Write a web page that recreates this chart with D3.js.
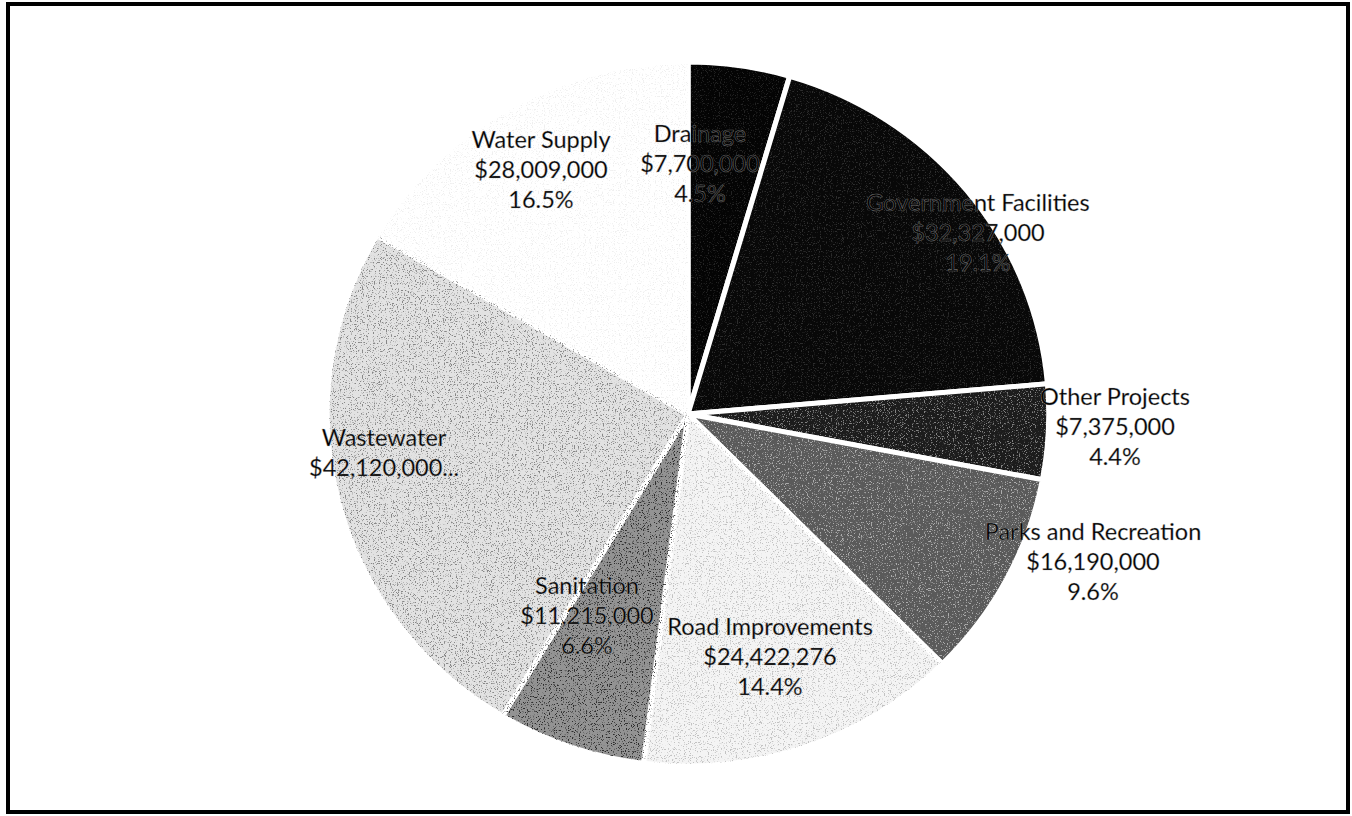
<!DOCTYPE html>
<html>
<head>
<meta charset="utf-8">
<script src="https://cdn.jsdelivr.net/npm/d3@7"></script>
<style>
  html, body { margin: 0; padding: 0; background: #fff; }
  svg { display: block; }
</style>
</head>
<body>
<svg id="chart"></svg>
<script>
const categories = ["Drainage", "Government Facilities", "Other Projects", "Parks and Recreation",
                    "Road Improvements", "Sanitation", "Wastewater", "Water Supply"];
const values = [7700000, 32327000, 7375000, 16190000, 24422276, 11215000, 42120000, 28009000];
const fills = ["#040404", "#080808", "#1c1c1c", "#5a5a5a", "#f4f4f4", "#939393", "#e2e2e2", "#ffffff"];
// speckle colour and strength laid over each slice (scanned look)
const grainColors = ["#fff", "#fff", "#fff", "#fff", "#000", "#000", "#000", "#000"];
const grainAlpha = [0.12, 0.15, 0.45, 0.5, 0.2, 0.7, 0.4, 0.06];

// label block centres (middle line), relative to the pie centre
const labelOffsets = [[12, -250], [290, -181], [427, 13], [405, 148],
                      [82, 243], [-101, 202], [-304, 39], [-147, -244]];

const W = 1352, H = 816;
const cx = 688, cy = 414, radius = 352;

const svg = d3.select("#chart").attr("width", W).attr("height", H);

const defs = svg.append("defs");
const grain = defs.append("filter").attr("id", "grain")
  .attr("x", 0).attr("y", 0).attr("width", 1).attr("height", 1);
grain.append("feTurbulence")
  .attr("type", "fractalNoise").attr("baseFrequency", 0.85)
  .attr("numOctaves", 2).attr("seed", 4).attr("result", "noise");
grain.append("feColorMatrix")
  .attr("in", "noise").attr("type", "matrix")
  .attr("values", "0 0 0 0 0  0 0 0 0 0  0 0 0 0 0  -8 0 0 0 3.4")
  .attr("result", "dots");
grain.append("feComposite")
  .attr("in", "SourceGraphic").attr("in2", "dots").attr("operator", "in");

svg.append("rect")
  .attr("x", 8).attr("y", 4).attr("width", W - 12).attr("height", H - 8)
  .attr("fill", "#fff").attr("stroke", "#000").attr("stroke-width", 4);

const total = d3.sum(values);
const money = d3.format("$,");
const pct = d3.format(".1%");

const pie = d3.pie().sort(null).value(d => d)(values);
const arc = d3.arc().innerRadius(0).outerRadius(radius);

// scan is slightly wider than tall
const g = svg.append("g").attr("transform", `translate(${cx},${cy}) scale(1.025,1)`);

g.selectAll("path.slice")
  .data(pie)
  .enter()
  .append("path")
  .attr("class", "slice")
  .attr("d", arc)
  .attr("fill", (d, i) => fills[i])
  .attr("stroke", "#fff")
  .attr("stroke-width", 5)
  .attr("stroke-linejoin", "round");

g.selectAll("path.grain")
  .data(pie)
  .enter()
  .append("path")
  .attr("class", "grain")
  .attr("d", d3.arc().innerRadius(0).outerRadius(radius - 2))
  .attr("fill", (d, i) => grainColors[i])
  .attr("opacity", (d, i) => grainAlpha[i])
  .attr("filter", "url(#grain)");

const lineH = 30;
const lg = svg.append("g").attr("transform", `translate(${cx},${cy})`);
const labels = lg.selectAll("text.lbl")
  .data(pie)
  .enter()
  .append("text")
  .attr("class", "lbl")
  .attr("text-anchor", "middle")
  .style("font-family", "Lato, 'Open Sans', sans-serif")
  .style("font-size", "23.5px")
  .attr("fill", "#000")
  .attr("stroke", "rgba(170,170,170,0.6)")
  .attr("stroke-width", 0.6);

labels.each(function (d, i) {
  const name = categories[i];
  let lines = [name, money(values[i]), pct(values[i] / total)];
  if (name === "Wastewater") lines = [name, money(values[i]) + "..."];
  const [ox, oy] = labelOffsets[i];
  const startY = oy - (lines.length - 1) * lineH / 2;
  const t = d3.select(this);
  lines.forEach((s, k) => {
    t.append("tspan")
      .attr("x", ox)
      .attr("y", startY + k * lineH)
      .attr("dy", "0.35em")
      .text(s);
  });
});
</script>
</body>
</html>
